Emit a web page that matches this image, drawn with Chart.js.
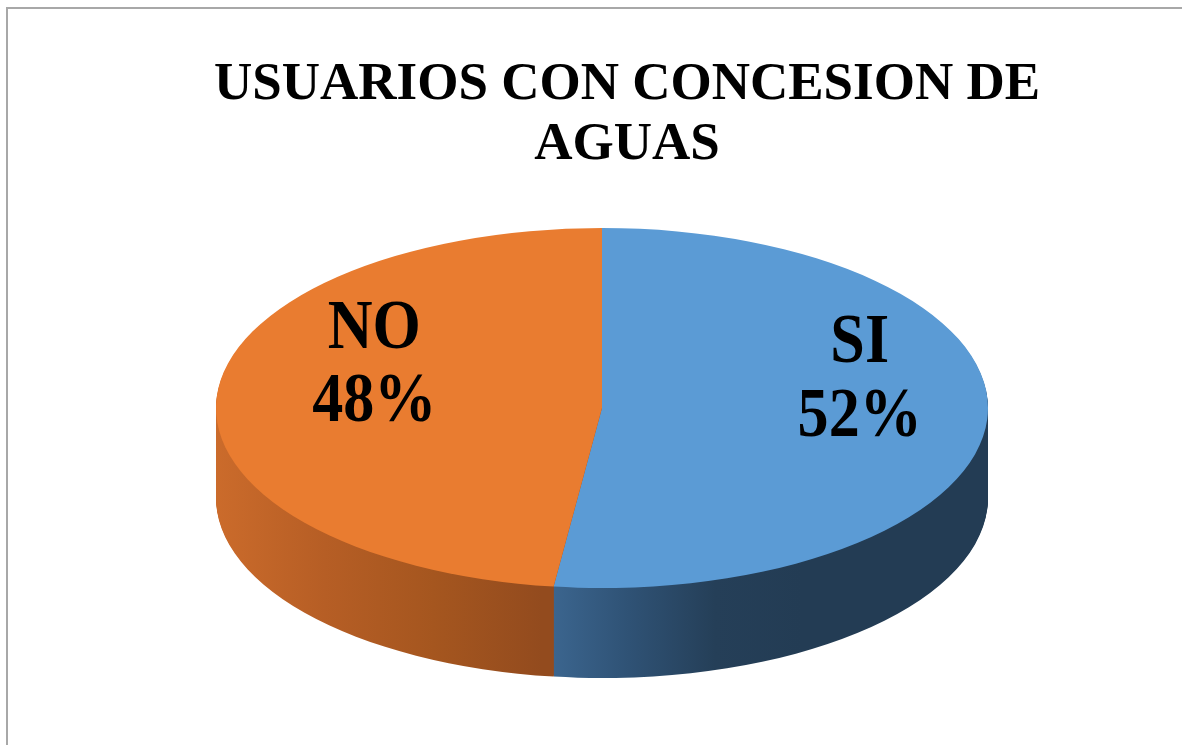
<!DOCTYPE html>
<html>
<head>
<meta charset="utf-8">
<script src="https://cdn.jsdelivr.net/npm/chart.js@4.4.1/dist/chart.umd.min.js"></script>
<style>
  body { margin: 0; background: #fff; }
  #frame { position: absolute; left: 6px; top: 7px; right: 0; bottom: 0; border-top: 2px solid #a8a8a8; border-left: 2px solid #a8a8a8; }
  #myChart { position: absolute; left: 0; top: 0; }
</style>
</head>
<body>
<div id="frame"></div>
<canvas id="myChart" width="1182" height="745"></canvas>
<script>
// data
const labels = ['SI', 'NO'];
const values = [52, 48];
const topColors = ['#5b9bd5', '#e97c30'];
// side shading, left -> right
const sideColors = [
  ['#3d6892', '#2f5275', '#253f58', '#233c54'],
  ['#cb6b2b', '#b65e25', '#a5561f', '#934b1e']
];

// where the flattened pie sits on the page
const CX = 602, CY = 408, RX = 386, RY = 180, DEPTH = 90;

function fakeArc(arc, color) {
  let f = Object.assign(Object.create(Object.getPrototypeOf(arc)), arc);
  f.options = Object.assign({}, arc.options, { backgroundColor: color });
  return f;
}

const pie3d = {
  id: 'pie3d',
  beforeDatasetsDraw(chart) {
    const ctx = chart.ctx;
    const arcs = chart.getDatasetMeta(0).data;
    const ax = arcs[0].x, ay = arcs[0].y, r = arcs[0].outerRadius;
    const sx = RX / r, sy = RY / r;
    // page x -> chart x (before scaling)
    const toX = (px) => ax + (px - CX) / sx;

    const grads = [
      [CX - 60, CX + 200],
      [CX - RX, CX - 60]
    ].map(function(span, i) {
      let g = ctx.createLinearGradient(toX(span[0]), 0, toX(span[1]), 0);
      sideColors[i].forEach((c, k) => g.addColorStop(k / (sideColors[i].length - 1), c));
      return g;
    });

    // extruded side
    for (let d = DEPTH; d > 0; d--) {
      ctx.save();
      ctx.translate(CX, CY + d);
      ctx.scale(sx, sy);
      ctx.translate(-ax, -ay);
      arcs.forEach((arc, i) => fakeArc(arc, grads[i]).draw(ctx));
      ctx.restore();
    }

    // top face is drawn by chart.js inside this transform
    ctx.save();
    ctx.translate(CX, CY);
    ctx.scale(sx, sy);
    ctx.translate(-ax, -ay);
  },
  afterDatasetsDraw(chart) {
    const ctx = chart.ctx;
    ctx.restore();
    const arcs = chart.getDatasetMeta(0).data;
    const total = values.reduce((a, b) => a + b, 0);
    arcs.forEach(function(arc, i) {
      const mid = (arc.startAngle + arc.endAngle) / 2;
      const x = CX + 15 + 0.63 * RX * Math.cos(mid);
      const y = CY - 34 + 0.63 * RY * Math.sin(mid);
      ctx.save();
      ctx.translate(x, y);
      ctx.scale(0.97, 1.08);
      ctx.fillStyle = '#000';
      ctx.font = 'bold 64px "Liberation Serif", "Times New Roman", serif';
      ctx.textAlign = 'center';
      ctx.textBaseline = 'middle';
      ctx.fillText(labels[i], 0, -34);
      ctx.fillText(Math.round(values[i] / total * 100) + '%', 0, 34);
      ctx.restore();
    });
  }
};

var ctx = document.getElementById('myChart');
var chart = new Chart(ctx, {
  type: 'pie',
  data: {
    labels: labels,
    datasets: [{
      data: values,
      backgroundColor: topColors,
      borderWidth: 0
    }]
  },
  options: {
    responsive: false,
    animation: false,
    layout: { padding: { left: 72, top: 0, bottom: 150 } },
    plugins: {
      legend: { display: false },
      tooltip: { enabled: false },
      title: {
        display: true,
        text: ['USUARIOS CON CONCESION DE', 'AGUAS'],
        color: '#000',
        font: { family: '"Liberation Serif", "Times New Roman", serif', size: 53, weight: 'bold', lineHeight: 1.13 },
        padding: { top: 55, bottom: 10 }
      }
    }
  },
  plugins: [pie3d]
});
</script>
</body>
</html>
